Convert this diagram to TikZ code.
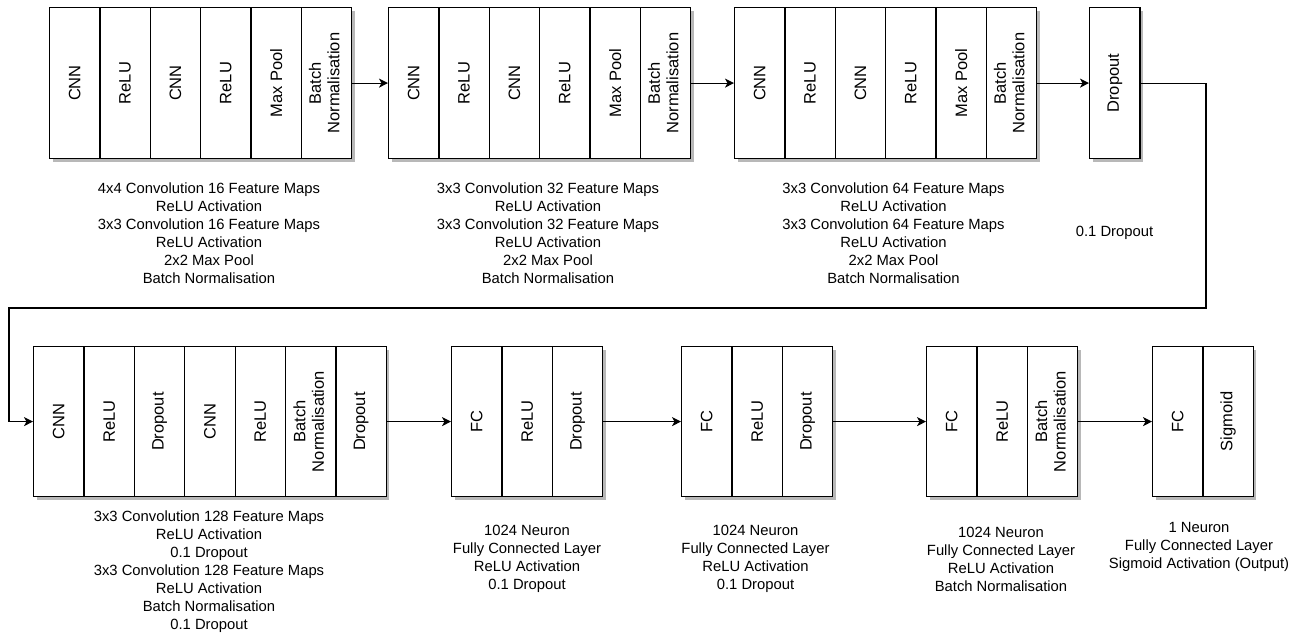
\documentclass[tikz,border=0pt]{standalone}
\usepackage{fontspec}
\setmainfont{Liberation Sans}
\usepackage{graphicx}
\usetikzlibrary{shadows,arrows.meta}
\newcommand\BNlab{\begin{tabular}{@{}c@{}}Batch\\Normalisation\end{tabular}}
\begin{document}
\begin{tikzpicture}[x=1pt,y=-1pt,
  cell/.style={draw=black,line width=1.2pt,fill=white,anchor=north west,
    minimum width=50.4pt,minimum height=151pt,inner sep=0pt,
    font=\fontsize{16.5}{18.5}\selectfont,
    drop shadow={shadow xshift=3pt,shadow yshift=-3pt,fill=black,opacity=0.28}},
  captxt/.style={align=center,font=\fontsize{14.8}{18}\selectfont,inner sep=0pt},
  arr/.style={line width=1.2pt,-{Stealth[length=9pt,width=9pt,inset=2.5pt]}}]
\useasboundingbox (0,0) rectangle (1303,637);
\fill[white] (0,0) rectangle (1303,637);
% row 1
\foreach \t [count=\i] in {CNN,ReLU,CNN,ReLU,Max Pool,\BNlab}
  \node[cell] (a\i) at ({49+50.33*(\i-1)},7) {\rotatebox{90}{\t}};
\foreach \t [count=\i] in {CNN,ReLU,CNN,ReLU,Max Pool,\BNlab}
  \node[cell] (b\i) at ({388+50.33*(\i-1)},7) {\rotatebox{90}{\t}};
\foreach \t [count=\i] in {CNN,ReLU,CNN,ReLU,Max Pool,\BNlab}
  \node[cell] (c\i) at ({734+50.33*(\i-1)},7) {\rotatebox{90}{\t}};
\node[cell] (d1) at (1089,7) {\rotatebox{90}{Dropout}};
% row 2
\foreach \t [count=\i] in {CNN,ReLU,Dropout,CNN,ReLU,\BNlab,Dropout}
  \node[cell,minimum height=150pt] (e\i) at ({33+50.4*(\i-1)},346) {\rotatebox{90}{\t}};
\foreach \t [count=\i] in {FC,ReLU,Dropout}
  \node[cell,minimum height=150pt] (f\i) at ({451+50.4*(\i-1)},346) {\rotatebox{90}{\t}};
\foreach \t [count=\i] in {FC,ReLU,Dropout}
  \node[cell,minimum height=150pt] (g\i) at ({681+50.4*(\i-1)},346) {\rotatebox{90}{\t}};
\foreach \t [count=\i] in {FC,ReLU,\BNlab}
  \node[cell,minimum height=150pt] (h\i) at ({926+50.4*(\i-1)},346) {\rotatebox{90}{\t}};
\foreach \t [count=\i] in {FC,Sigmoid}
  \node[cell,minimum height=150pt] (k\i) at ({1152+50.4*(\i-1)},346) {\rotatebox{90}{\t}};
% connectors
\draw[arr] (a6.east) -- (b1.west);
\draw[arr] (b6.east) -- (c1.west);
\draw[arr] (c6.east) -- (d1.west);
\coordinate (t1) at (1206,308);
\coordinate (t2) at (9,308);
\draw[arr] (d1.east) -| (t1) -- (t2) |- (e1.west);
\draw[arr] (e7.east) -- (f1.west);
\draw[arr] (f3.east) -- (g1.west);
\draw[arr] (g3.east) -- (h1.west);
\draw[arr] (h3.east) -- (k1.west);
% captions
\node[captxt] (ca) at (209,233) {4x4 Convolution 16 Feature Maps\\ReLU Activation\\3x3 Convolution 16 Feature Maps\\ReLU Activation\\2x2 Max Pool\\Batch Normalisation};
\node[captxt] (cb) at (548,233) {3x3 Convolution 32 Feature Maps\\ReLU Activation\\3x3 Convolution 32 Feature Maps\\ReLU Activation\\2x2 Max Pool\\Batch Normalisation};
\node[captxt] (cc) at (893.5,233) {3x3 Convolution 64 Feature Maps\\ReLU Activation\\3x3 Convolution 64 Feature Maps\\ReLU Activation\\2x2 Max Pool\\Batch Normalisation};
\node[captxt] (cd) at (1114.5,233) {0.1 Dropout};
\node[captxt] (ce) at (209,571.5) {3x3 Convolution 128 Feature Maps\\ReLU Activation\\0.1 Dropout\\3x3 Convolution 128 Feature Maps\\ReLU Activation\\Batch Normalisation\\0.1 Dropout};
\node[captxt] (cf) at (527,559) {1024 Neuron\\Fully Connected Layer\\ReLU Activation\\0.1 Dropout};
\node[captxt] (cg) at (755.5,559) {1024 Neuron\\Fully Connected Layer\\ReLU Activation\\0.1 Dropout};
\node[captxt] (ch) at (1001,559) {1024 Neuron\\Fully Connected Layer\\ReLU Activation\\Batch Normalisation};
\node[captxt] (ck) at (1199,547) {1 Neuron\\Fully Connected Layer\\Sigmoid Activation (Output)};
\end{tikzpicture}
\end{document}
